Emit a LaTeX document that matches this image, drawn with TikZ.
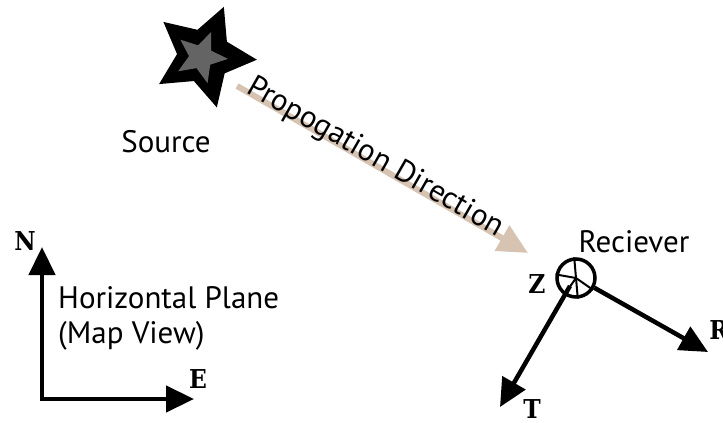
\documentclass[tikz,border=0pt]{standalone}
\usepackage{fontspec}
\setmainfont{PT Sans}
\newfontfamily\axfont{DejaVu Serif Condensed}
\usetikzlibrary{arrows.meta}
\definecolor{tanarrow}{RGB}{214,195,178}
\definecolor{stargray}{RGB}{100,100,100}
\tikzset{
  lbl/.style={font=\fontsize{31}{36}\selectfont, inner sep=0pt},
  axlbl/.style={font=\fontsize{26}{28}\selectfont\axfont\bfseries, inner sep=0pt},
  axarrow/.style={line width=4.5pt, -{Triangle[length=28pt,width=26pt]}},
  proparrow/.style={tanarrow, line width=6pt, -{Triangle[length=30pt,width=28pt]}}
}
\begin{document}
\begin{tikzpicture}[x=1pt,y=-1pt]
\useasboundingbox (0,0) rectangle (723,423);
\clip (0,0) rectangle (723,423);
% star
\begin{scope}[shift={(204,56)},yscale=-1]
  \fill[black] (68:53) \foreach \k in {1,...,9}{ -- ({68+36*\k}:{mod(\k,2)==0 ? 53 : 27}) } -- cycle;
\end{scope}
\begin{scope}[shift={(201,57)},yscale=-1]
  \fill[stargray] (68:27) \foreach \k in {1,...,9}{ -- ({68+36*\k}:{mod(\k,2)==0 ? 27 : 12}) } -- cycle;
\end{scope}
\node[lbl] (source) at (166,142) {Source};
% propagation arrow
\coordinate (pstart) at (237,86);
\coordinate (pend) at (528,253);
\draw[proparrow] (pstart) -- (pend);
\node[lbl, rotate=-29.8] (prop) at (375,158) {Propogation Direction};
% map view axes
\coordinate (corner) at (42,399);
\coordinate (ntip) at (42,247);
\coordinate (etip) at (194,399);
\draw[axarrow] (corner) -- (ntip);
\draw[axarrow] ([xshift=-2.25pt]corner) -- (etip);
\node[axlbl] (N) at (25,241) {N};
\node[axlbl] (E) at (198,379) {E};
\node[lbl, anchor=west] (hp) at (58,298) {Horizontal Plane};
\node[lbl, anchor=west] (mv) at (58,336) {(Map View)};
% receiver
\node[lbl] (rec) at (634,242) {Reciever};
\node[circle, draw, line width=3.5pt, minimum size=38pt, inner sep=0pt] (rc) at (576,278) {};
\foreach \a in {95,170,235,275,325}{
  \draw[line width=2pt] (rc.center) -- (rc.\a);
}
\coordinate (ttip) at (500,407);
\coordinate (rtip) at (708,352);
\draw[axarrow] (rc.center) ++(-6,8) coordinate (tst) (tst) -- (ttip);
\draw[axarrow] (rc.-28) -- (rtip);
\node[axlbl] (Z) at (537,284) {Z};
\node[axlbl] (T) at (532,409) {T};
\node[axlbl] (R) at (719,330) {R};
\end{tikzpicture}
\end{document}
